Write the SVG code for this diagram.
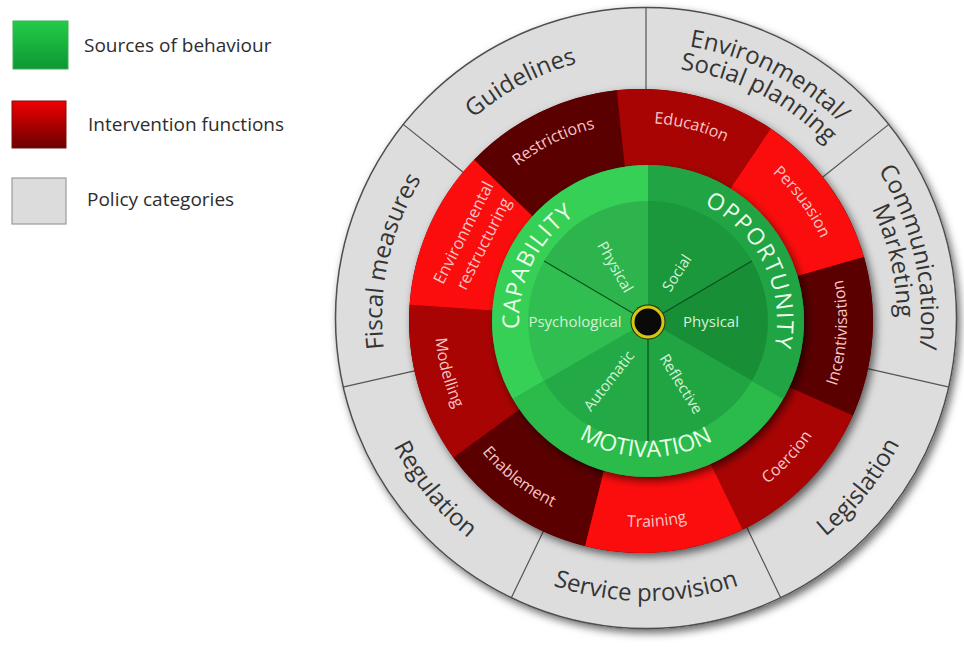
<svg xmlns="http://www.w3.org/2000/svg" width="964" height="647" viewBox="0 0 964 647">
<defs>
<style>
text{font-family:"Open Sans","Liberation Sans",sans-serif;}
.pol{font-size:24px;fill:#343434;text-anchor:middle;}
.fn{font-size:16px;fill:#f7c6c6;text-anchor:middle;}
.src{font-size:23px;fill:#ebffeb;text-anchor:middle;}
.sub{font-size:15px;fill:#d4f4d4;text-anchor:middle;}
.leg{font-size:19px;fill:#2d2d2d;}
.div{stroke:#555;stroke-width:1.2;fill:none;}
.gl{stroke:#0c4f1d;stroke-width:1.2;}
.grey{fill:#dddddd;}
.bright{fill:#fc0d0d;}
.mid{fill:#a90404;}
.dark{fill:#5a0000;}
</style>
<linearGradient id="lgG" x1="0" y1="0" x2="0" y2="1"><stop offset="0" stop-color="#22cc48"/><stop offset="1" stop-color="#0f9634"/></linearGradient>
<linearGradient id="lgR" x1="0" y1="0" x2="0" y2="1"><stop offset="0" stop-color="#f20000"/><stop offset="1" stop-color="#6a0000"/></linearGradient>
<filter id="sh" x="-20%" y="-20%" width="140%" height="140%"><feDropShadow dx="3" dy="4" stdDeviation="4" flood-color="#000" flood-opacity="0.6"/></filter>
<path id="gcw264" d="M-228.6,-132 A264,264 0 0 1 228.6,-132"/>
<path id="gcw275" d="M-238.2,-137.5 A275,275 0 0 1 238.2,-137.5"/>
<path id="gcw251" d="M-217.4,-125.5 A251,251 0 0 1 217.4,-125.5"/>
<path id="gccw283" d="M-245.1,141.5 A283,283 0 0 0 245.1,141.5"/>
<path id="rcw198" d="M-171.5,-99 A198,198 0 0 1 171.5,-99"/>
<path id="rccw206" d="M-178.4,103 A206,206 0 0 0 178.4,103"/>
<path id="scw129" d="M-111.7,-64.5 A129,129 0 0 1 111.7,-64.5"/>
<path id="sccw136" d="M-117.8,68 A136,136 0 0 0 117.8,68"/>
</defs>

<rect width="964" height="647" fill="#ffffff"/>

<g id="legend">
  <g id="legend-sources">
    <rect x="13" y="21" width="55" height="48" fill="url(#lgG)" stroke="#3fae5a" stroke-width="1"/>
    <text class="leg" x="84" y="52">Sources of behaviour</text>
  </g>
  <g id="legend-interventions">
    <rect x="12" y="101" width="54" height="47" fill="url(#lgR)" stroke="#7a1010" stroke-width="1"/>
    <text class="leg" x="88" y="131">Intervention functions</text>
  </g>
  <g id="legend-policy">
    <rect x="12" y="178" width="54" height="46" fill="#dcdcdc" stroke="#9a9a9a" stroke-width="1.2"/>
    <text class="leg" x="87" y="206">Policy categories</text>
  </g>
</g>

<circle cx="646" cy="318" r="311" fill="#dddddd" filter="url(#sh)"/>

<g id="pol-env">
  <path class="grey" d="M646,318 L646,7 A311,311 0 0 1 889.1,124.1 Z"/>
  <g transform="translate(646,318) rotate(27)">
    <text class="pol"><textPath href="#gcw275" startOffset="50%">Environmental/</textPath></text>
    <text class="pol"><textPath href="#gcw251" startOffset="50%">Social planning</textPath></text>
  </g>
</g>
<g id="pol-comm">
  <path class="grey" d="M646,318 L889.1,124.1 A311,311 0 0 1 949.2,387.2 Z"/>
  <g transform="translate(646,318) rotate(77)">
    <text class="pol"><textPath href="#gcw275" startOffset="50%">Communication/</textPath></text>
    <text class="pol"><textPath href="#gcw251" startOffset="50%">Marketing</textPath></text>
  </g>
</g>
<g id="pol-leg">
  <path class="grey" d="M646,318 L949.2,387.2 A311,311 0 0 1 780.9,598.2 Z"/>
  <text class="pol" transform="translate(646,318) rotate(-51.5)"><textPath href="#gccw283" startOffset="50%">Legislation</textPath></text>
</g>
<g id="pol-serv">
  <path class="grey" d="M646,318 L780.9,598.2 A311,311 0 0 1 511.1,598.2 Z"/>
  <text class="pol" transform="translate(646,318) rotate(0)"><textPath href="#gccw283" startOffset="50%">Service provision</textPath></text>
</g>
<g id="pol-reg">
  <path class="grey" d="M646,318 L511.1,598.2 A311,311 0 0 1 342.8,387.2 Z"/>
  <text class="pol" transform="translate(646,318) rotate(51)"><textPath href="#gccw283" startOffset="50%">Regulation</textPath></text>
</g>
<g id="pol-fisc">
  <path class="grey" d="M646,318 L342.8,387.2 A311,311 0 0 1 402.9,124.1 Z"/>
  <text class="pol" transform="translate(646,318) rotate(-77.5)"><textPath href="#gcw264" startOffset="50%">Fiscal measures</textPath></text>
</g>
<g id="pol-guide">
  <path class="grey" d="M646,318 L402.9,124.1 A311,311 0 0 1 646,7 Z"/>
  <text class="pol" transform="translate(646,318) rotate(-28)"><textPath href="#gcw264" startOffset="50%">Guidelines</textPath></text>
</g>

<g id="connectors">
  <line class="div" x1="646" y1="93" x2="646" y2="7"/>
  <line class="div" x1="821.9" y1="177.7" x2="889.1" y2="124.1"/>
  <line class="div" x1="865.4" y1="368.1" x2="949.2" y2="387.2"/>
  <line class="div" x1="743.6" y1="520.7" x2="780.9" y2="598.2"/>
  <line class="div" x1="548.4" y1="520.7" x2="511.1" y2="598.2"/>
  <line class="div" x1="426.6" y1="368.1" x2="342.8" y2="387.2"/>
  <line class="div" x1="470.1" y1="177.7" x2="402.9" y2="124.1"/>
  <circle cx="646" cy="318" r="310.5" fill="none" stroke="#4e4e4e" stroke-width="1.5"/>
</g>

<circle cx="641" cy="321" r="232" fill="#600000" filter="url(#sh)"/>

<g id="fn-restrictions">
  <path class="dark" d="M641,321 L474.1,159.8 A232,232 0 0 1 616.8,90.3 Z"/>
  <text class="fn" transform="translate(641,321) rotate(-26)"><textPath href="#rcw198" startOffset="50%">Restrictions</textPath></text>
</g>
<g id="fn-education">
  <path class="mid" d="M641,321 L616.8,90.3 A232,232 0 0 1 770.7,128.7 Z"/>
  <text class="fn" transform="translate(641,321) rotate(14.5)"><textPath href="#rcw198" startOffset="50%">Education</textPath></text>
</g>
<g id="fn-persuasion">
  <path class="bright" d="M641,321 L770.7,128.7 A232,232 0 0 1 864,257.1 Z"/>
  <text class="fn" transform="translate(641,321) rotate(53.5)"><textPath href="#rcw198" startOffset="50%">Persuasion</textPath></text>
</g>
<g id="fn-incentivisation">
  <path class="dark" d="M641,321 L864,257.1 A232,232 0 0 1 852.9,415.4 Z"/>
  <text class="fn" transform="translate(641,321) rotate(-86.6)"><textPath href="#rccw206" startOffset="50%">Incentivisation</textPath></text>
</g>
<g id="fn-coercion">
  <path class="mid" d="M641,321 L852.9,415.4 A232,232 0 0 1 742.7,529.5 Z"/>
  <text class="fn" transform="translate(641,321) rotate(-47)"><textPath href="#rccw206" startOffset="50%">Coercion</textPath></text>
</g>
<g id="fn-training">
  <path class="bright" d="M641,321 L742.7,529.5 A232,232 0 0 1 584.9,546.1 Z"/>
  <text class="fn" transform="translate(641,321) rotate(-4.5)"><textPath href="#rccw206" startOffset="50%">Training</textPath></text>
</g>
<g id="fn-enablement">
  <path class="dark" d="M641,321 L584.9,546.1 A232,232 0 0 1 453.3,457.4 Z"/>
  <text class="fn" transform="translate(641,321) rotate(38)"><textPath href="#rccw206" startOffset="50%">Enablement</textPath></text>
</g>
<g id="fn-modelling">
  <path class="mid" d="M641,321 L453.3,457.4 A232,232 0 0 1 409.6,304.8 Z"/>
  <text class="fn" transform="translate(641,321) rotate(75)"><textPath href="#rccw206" startOffset="50%">Modelling</textPath></text>
</g>
<g id="fn-envrestructuring">
  <path class="bright" d="M641,321 L409.6,304.8 A232,232 0 0 1 474.1,159.8 Z"/>
  <text class="fn" style="font-size:16.5px" transform="translate(464,233) rotate(-63)" y="5">Environmental</text>
  <text class="fn" style="font-size:16.5px" transform="translate(484,244) rotate(-63)" y="5">restructuring</text>
</g>

<circle cx="648" cy="321" r="156" fill="#1d9a3d" filter="url(#sh)"/>

<g id="src-capability">
  <path fill="#37d056" d="M648,321 L512.9,399 A156,156 0 0 1 648,165 Z"/>
  <path fill="#2db44c" d="M648,321 L544.1,261 A120,120 0 0 1 648,201 Z"/>
  <path fill="#31be50" d="M648,321 L544.1,381 A120,120 0 0 1 544.1,261 Z"/>
  <text class="src" style="letter-spacing:1px" transform="translate(648,321) rotate(-64)"><textPath href="#scw129" startOffset="50%">CAPABILITY</textPath></text>
  <text class="sub" transform="translate(615,267) rotate(60)" y="5">Physical</text>
  <text class="sub" x="575" y="327">Psychological</text>
</g>
<g id="src-opportunity">
  <path fill="#20a444" d="M648,321 L648,165 A156,156 0 0 1 783.1,399 Z"/>
  <path fill="#1b983c" d="M648,321 L648,201 A120,120 0 0 1 751.9,261 Z"/>
  <path fill="#188f37" d="M648,321 L751.9,261 A120,120 0 0 1 751.9,381 Z"/>
  <text class="src" style="letter-spacing:1.4px" transform="translate(648,321) rotate(64)"><textPath href="#scw129" startOffset="50%">OPPORTUNITY</textPath></text>
  <text class="sub" transform="translate(677,273) rotate(-57)" y="5">Social</text>
  <text class="sub" x="711" y="327">Physical</text>
</g>
<g id="src-motivation">
  <path fill="#2abb4b" d="M648,321 L783.1,399 A156,156 0 0 1 512.9,399 Z"/>
  <path fill="#21a442" d="M648,321 L751.9,381 A120,120 0 0 1 648,441 Z"/>
  <path fill="#23a945" d="M648,321 L648,441 A120,120 0 0 1 544.1,381 Z"/>
  <text class="src" transform="translate(648,321) rotate(1)"><textPath href="#sccw136" startOffset="50%">MOTIVATION</textPath></text>
  <text class="sub" transform="translate(609,381) rotate(-52)" y="5">Automatic</text>
  <text class="sub" transform="translate(681,384) rotate(58)" y="5">Reflective</text>
</g>

<g id="green-dividers">
  <line class="gl" x1="648" y1="322" x2="544.1" y2="261"/>
  <line class="gl" x1="648" y1="322" x2="751.9" y2="261"/>
  <line class="gl" x1="648" y1="322" x2="648" y2="441"/>
</g>

<g id="hub">
  <circle cx="648" cy="322" r="17.5" fill="#2a2a10"/>
  <circle cx="648" cy="322" r="15" fill="#0a0a0a" stroke="#d2c810" stroke-width="3"/>
</g>
</svg>
